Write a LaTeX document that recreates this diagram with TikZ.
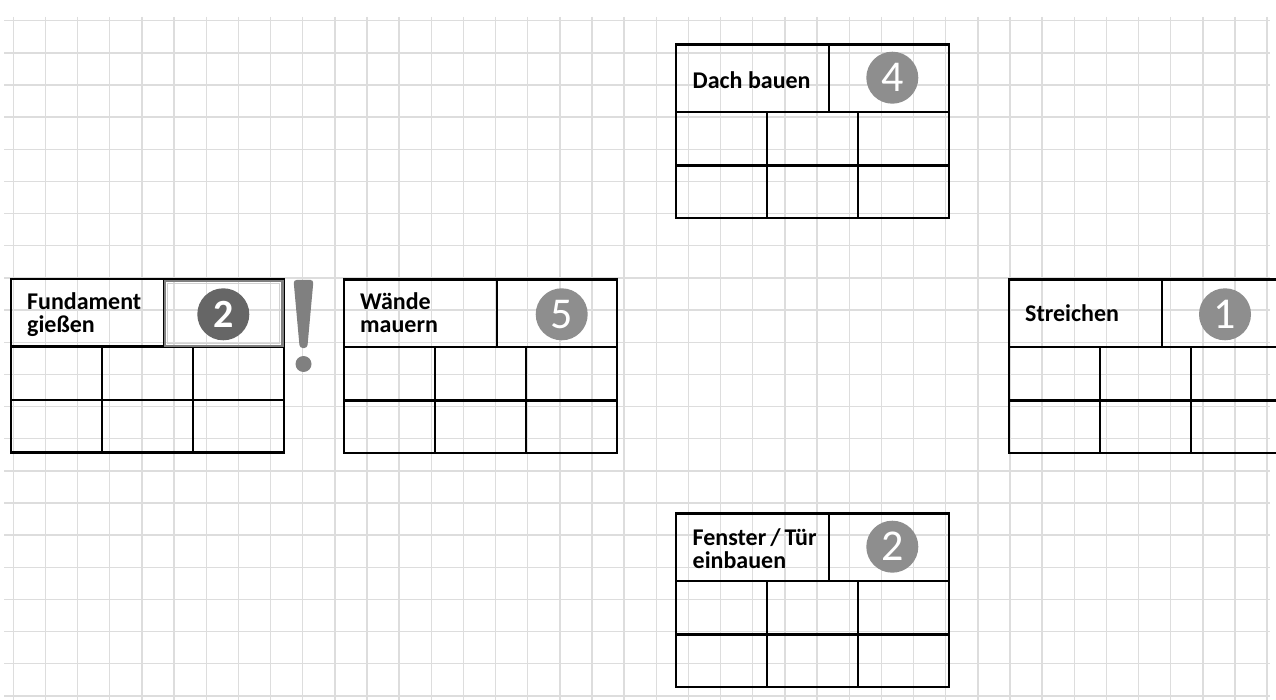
\documentclass[tikz,border=0pt]{standalone}
\usepackage{fontspec}
\setmainfont{Carlito}
\definecolor{gridc}{HTML}{DDDDDD}
\definecolor{numc}{HTML}{8E8E8E}
\definecolor{numdark}{HTML}{666666}
\definecolor{markc}{HTML}{808080}
\tikzset{
  gridline/.style={draw=gridc,line width=1.4pt},
  boxline/.style={draw=black,line width=2.6pt},
  tasklabel/.style={font=\bfseries\fontsize{24}{24}\selectfont,anchor=base west,inner sep=0pt},
  numcircle/.style={circle,fill=numc,minimum size=52pt,inner sep=0pt,text=white,font=\fontsize{44}{44}\selectfont},
  numcircledark/.style={numcircle,fill=numdark,font=\bfseries\fontsize{40}{40}\selectfont},
}
\newcommand\taskbox[3]{%
  \begin{scope}[shift={(#2,#3)}]
    \coordinate (#1) at (0,0);
    \draw[boxline] (0,0) rectangle (273,173.5);
    \draw[boxline] (0,67.5) -- (273,67.5);
    \draw[boxline] (0,121) -- (273,121);
    \draw[boxline] (153,0) -- (153,67.5);
    \draw[boxline] (91,67.5) -- (91,173.5);
    \draw[boxline] (182,67.5) -- (182,173.5);
  \end{scope}}
\begin{document}
\begin{tikzpicture}[x=1pt,y=-1pt]
\useasboundingbox (0,0) rectangle (1276,700);
\clip (0,0) rectangle (1276,700);
\fill[white] (0,0) rectangle (1276,700);
% graph paper
\foreach \k in {0,...,39} \draw[gridline] (13.3+32.15*\k,17) -- (13.3+32.15*\k,700);
\foreach \j in {0,...,21} \draw[gridline] (4,20.7+32.15*\j) -- (1270,20.7+32.15*\j);
% boxes
\taskbox{fund}{11}{279}
\taskbox{waende}{344}{279.3}
\taskbox{dach}{676}{44.7}
\taskbox{streich}{1009}{279.3}
\taskbox{fenster}{676}{513.3}
% highlighted cell
\draw[draw=markc,line width=2.6pt] (165,281) rectangle (282.5,346);
\draw[draw=gray!35,line width=0.8pt] (167.8,283.8) rectangle (279.7,343.2);
% labels
\node[tasklabel] (fundA) at (27,310) {Fundament};
\node[tasklabel] (fundB) at (27,333) {gießen};
\node[tasklabel] (waendeA) at (360,310) {Wände};
\node[tasklabel] (waendeB) at (360,333) {mauern};
\node[tasklabel] (dachA) at (692.5,88.5) {Dach bauen};
\node[tasklabel] (streichA) at (1025,321.5) {Streichen};
\node[tasklabel] (fensterA) at (692.5,545) {Fenster\,/\,Tür};
\node[tasklabel] (fensterB) at (692.5,568.5) {einbauen};
% numbers
\node[numcircledark] (nfund) at (223.3,314.3) {2};
\node[numcircle] (nwaende) at (561.7,314.3) {5};
\node[numcircle] (ndach) at (892.3,77.7) {4};
\node[numcircle] (nstreich) at (1225,314.3) {1};
\node[numcircle] (nfenster) at (892.3,546.7) {2};
% exclamation mark
\fill[markc,rounded corners=3pt] (293.5,280) -- (313.5,280) -- (307.3,348) -- (299.7,348) -- cycle;
\fill[markc] (303.5,364) circle (8);
\end{tikzpicture}
\end{document}
